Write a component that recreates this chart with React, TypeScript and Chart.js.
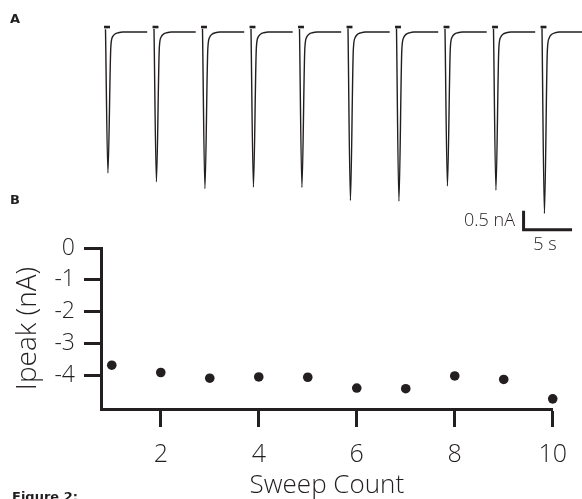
import React, { useEffect, useRef } from "react";
import { Chart, registerables } from "chart.js";
Chart.register(...registerables);

// ---------- Data ----------
const sweepCount = [1, 2, 3, 4, 5, 6, 7, 8, 9, 10];
const ipeak = [-3.69, -3.92, -4.1, -4.06, -4.07, -4.41, -4.43, -4.03, -4.14, -4.75];
const xTickValues = [2, 4, 6, 8, 10];
const yTickValues = [0, -1, -2, -3, -4];
// panel A: sweep onset times (s)
const sweepStart = [0, 5, 10, 15, 20, 25, 30, 35, 40, 45];
// current trace shape: time after stimulus (s) and fraction of peak
const traceTime = [0, 0.25, 0.55, 0.74, 0.98, 1.32, 1.8, 4.3];
const traceFrac = [-0.02, 1, 0.104, 0.033, 0.014, 0.005, 0, 0];
// stimulus marker (s relative to onset) and level (nA)
const markerSpan = [-0.15, 0.46];
const markerLevel = 0.13;
// scale bar: 0.5 nA / 5 s
const scaleBarX = [43.1, 43.1, 48.1];
const scaleBarY = [-4.68, -5.18, -5.18];

const ink = "#231f20";
const fam = "'Open Sans', 'DejaVu Sans', sans-serif";

function TracesChart() {
  const ref = useRef<HTMLCanvasElement>(null);
  useEffect(() => {
    const datasets: any[] = [];
    sweepStart.forEach((t0, i) => {
      datasets.push({
        data: traceTime.map((t, k) => ({ x: t0 + t, y: traceFrac[k] * ipeak[i] })),
        borderColor: ink,
        borderWidth: 1.4,
        pointRadius: 0,
        cubicInterpolationMode: "monotone",
        fill: false,
      });
      datasets.push({
        data: markerSpan.map((d) => ({ x: t0 + d, y: markerLevel })),
        borderColor: ink,
        borderWidth: 2.6,
        pointRadius: 0,
        fill: false,
      });
    });
    datasets.push({
      data: scaleBarX.map((x, k) => ({ x, y: scaleBarY[k] })),
      borderColor: ink,
      borderWidth: 3,
      pointRadius: 0,
      tension: 0,
      fill: false,
      borderJoinStyle: "miter",
    });
    const chart = new Chart(ref.current!, {
      type: "line",
      data: { datasets },
      options: {
        animation: false,
        responsive: false,
        events: [],
        layout: { padding: 0 },
        plugins: { legend: { display: false }, tooltip: { enabled: false } },
        scales: {
          x: { type: "linear", display: false, min: -10.876, max: 49.124 },
          y: { type: "linear", display: false, min: -5.707, max: 0.8377 },
        },
      },
    });
    return () => chart.destroy();
  }, []);
  return (
    <canvas
      ref={ref}
      width={582}
      height={250}
      style={{ position: "absolute", left: 0, top: 0, width: 582, height: 250 }}
    />
  );
}

function PeakChart() {
  const ref = useRef<HTMLCanvasElement>(null);
  useEffect(() => {
    const chart = new Chart(ref.current!, {
      type: "scatter",
      data: {
        datasets: [
          {
            data: sweepCount.map((s, i) => ({ x: s, y: ipeak[i] })),
            backgroundColor: ink,
            borderWidth: 0,
            pointRadius: 4.8,
            clip: false,
          },
        ],
      },
      options: {
        animation: false,
        responsive: false,
        events: [],
        layout: { padding: { top: 248, right: 16, left: 0, bottom: 0 } },
        plugins: { legend: { display: false }, tooltip: { enabled: false } },
        scales: {
          x: {
            type: "linear",
            min: 0.78,
            max: 10,
            afterBuildTicks: (s: any) => {
              s.ticks = xTickValues.map((v) => ({ value: v }));
            },
            afterFit: (s: any) => {
              s.height = 90;
            },
            grid: { drawOnChartArea: false, drawTicks: true, tickLength: 18, tickWidth: 3, tickColor: ink },
            border: { color: ink, width: 3 },
            ticks: { color: ink, font: { family: fam, size: 25, weight: 300, lineHeight: 1 }, padding: 15, maxRotation: 0, autoSkip: false },
            title: { display: true, text: "Sweep Count", color: ink, font: { family: fam, size: 26, weight: 300, lineHeight: 1 }, padding: 0 },
          },
          y: {
            type: "linear",
            min: -5.07,
            max: 0,
            afterBuildTicks: (s: any) => {
              s.ticks = yTickValues.map((v) => ({ value: v }));
            },
            afterFit: (s: any) => {
              s.width = 101;
            },
            grid: { drawOnChartArea: false, drawTicks: true, tickLength: 17, tickWidth: 3, tickColor: ink },
            border: { color: ink, width: 3 },
            ticks: { color: ink, font: { family: fam, size: 23, weight: 300, lineHeight: 1 }, padding: 9, autoSkip: false },
            title: { display: true, text: "Ipeak (nA)", color: ink, font: { family: fam, size: 28, weight: 300, lineHeight: 1 }, padding: { top: 14, bottom: 0 } },
          },
        },
      },
    });
    return () => chart.destroy();
  }, []);
  return (
    <canvas
      ref={ref}
      width={582}
      height={499}
      style={{ position: "absolute", left: 0, top: 0, width: 582, height: 499 }}
    />
  );
}

export default function App() {
  const label: React.CSSProperties = {
    position: "absolute",
    fontFamily: "'DejaVu Sans', sans-serif",
    fontWeight: "bold",
    fontSize: 13,
    lineHeight: 1,
    color: ink,
    whiteSpace: "nowrap",
  };
  const light: React.CSSProperties = {
    position: "absolute",
    fontFamily: fam,
    fontWeight: 300,
    fontSize: 18,
    lineHeight: 1,
    color: ink,
    whiteSpace: "nowrap",
  };
  return (
    <div
      style={{
        position: "absolute",
        left: 0,
        top: 0,
        width: 582,
        height: 499,
        background: "#fff",
        overflow: "hidden",
      }}
    >
      <PeakChart />
      <TracesChart />
      <div style={{ ...label, left: 10, top: 12 }}>A</div>
      <div style={{ ...label, left: 10, top: 193 }}>B</div>
      <div style={{ ...light, right: 67, top: 210 }}>0.5 nA</div>
      <div style={{ ...light, left: 515, width: 60, textAlign: "center", top: 234 }}>5 s</div>
      <div style={{ ...label, left: 12, top: 490, fontSize: 13 }}>Figure 2:</div>
    </div>
  );
}
